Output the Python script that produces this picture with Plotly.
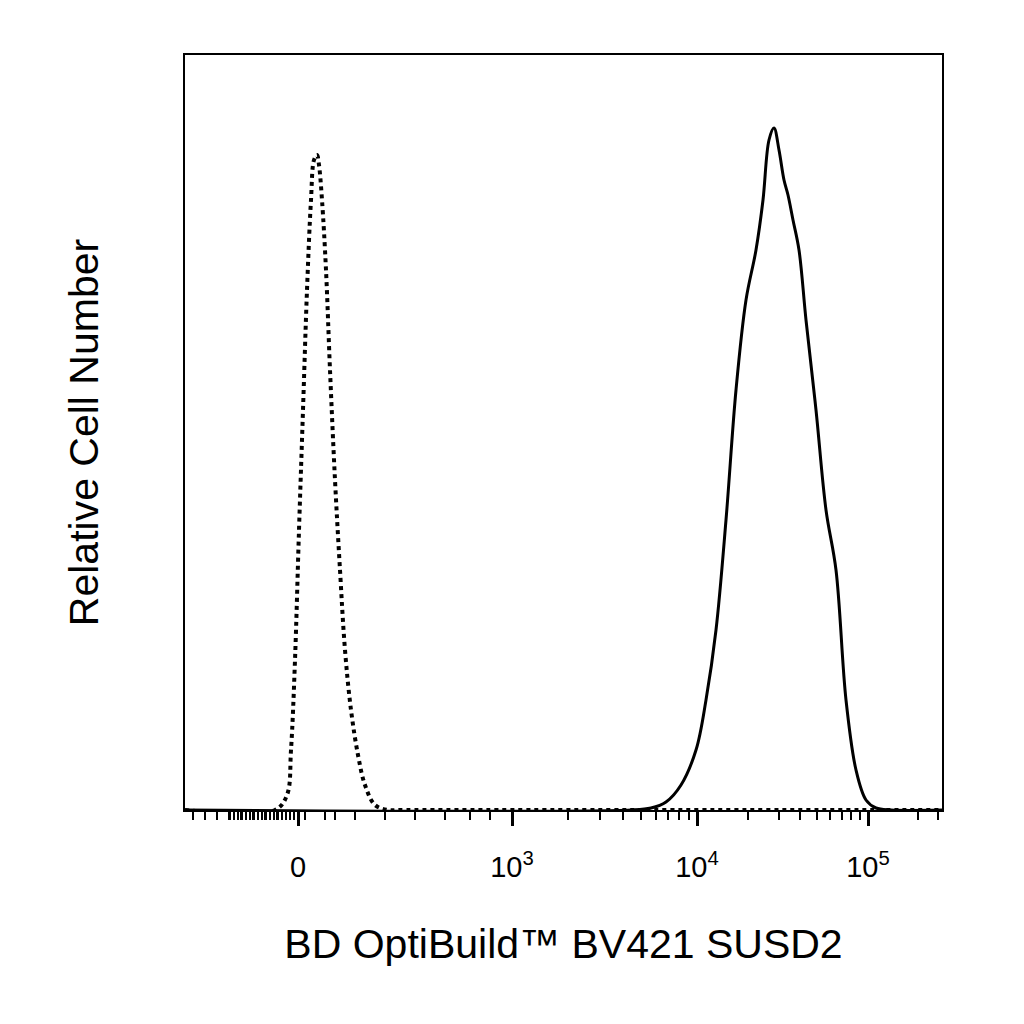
import numpy as np
import plotly.graph_objects as go

# axis units: display channel (0 = left edge, 757 = right edge of the plot)
# tick positions of the biexponential scale
tick_pos = [113, 327, 512, 683]
tick_text = ["0", "10<sup>3</sup>", "10<sup>4</sup>", "10<sup>5</sup>"]

# unstained control (dotted)
ctrl_x = [0, 90, 102, 106, 110, 114, 118, 122, 126, 129, 132, 134, 137, 141, 145, 150, 155, 160, 166, 173, 180, 190, 203, 215, 300, 757]
ctrl_y = [0, 0, 15, 60, 150, 280, 400, 520, 610, 650, 655, 645, 610, 540, 440, 330, 240, 160, 100, 55, 25, 5, 0, 0, 0, 0]

# BV421 SUSD2 stained (solid)
stain_x = [0, 446, 466, 481, 496, 511, 521, 531, 541, 551, 561, 571, 578, 584, 589, 594, 599, 603, 608, 614, 621, 631, 641, 651, 661, 671, 681, 691, 706, 757]
stain_y = [0, 0, 2, 8, 25, 60, 110, 180, 290, 420, 510, 560, 610, 670, 682, 660, 630, 615, 590, 560, 490, 400, 300, 240, 110, 40, 10, 2, 0, 0]

# minor tick positions
minor = list(range(8, 100, 12)) + list(range(45, 110, 4)) + [120, 140, 150, 170, 200, 230, 260, 285, 305]
minor += [327 + 185 * np.log10(k) for k in range(2, 10)]
minor += [512 + 171 * np.log10(k) for k in range(2, 10)]
minor += [683 + 50, 683 + 70]

fig = go.Figure()
fig.add_trace(go.Scatter(x=ctrl_x, y=ctrl_y, mode="lines", line=dict(color="black", width=4, dash="dot", shape="spline")))
fig.add_trace(go.Scatter(x=stain_x, y=stain_y, mode="lines", line=dict(color="black", width=3, shape="spline")))

fig.update_layout(
    width=1024, height=1024, showlegend=False,
    paper_bgcolor="white", plot_bgcolor="white",
    margin=dict(l=177, r=90, t=47, b=222),
    font=dict(family="Liberation Sans, Arial", color="black"),
)
fig.update_xaxes(range=[0, 757], tickmode="array", tickvals=tick_pos, ticktext=tick_text,
                 ticks="outside", ticklen=14, tickwidth=3, tickcolor="black", ticklabelstandoff=16,
                 minor=dict(tickvals=minor, ticks="outside", ticklen=8, tickwidth=2, tickcolor="black"),
                 tickfont=dict(size=29), showgrid=False, zeroline=False,
                 showline=True, linecolor="black", linewidth=2, mirror=True,
                 title=dict(text="BD OptiBuild™ BV421 SUSD2", font=dict(size=41), standoff=48))
fig.update_yaxes(range=[0, 755], showticklabels=False, ticks="", showgrid=False, zeroline=False,
                 showline=True, linecolor="black", linewidth=2, mirror=True,
                 title=dict(text="Relative Cell Number", font=dict(size=41), standoff=72))
fig.write_html("out.html")
